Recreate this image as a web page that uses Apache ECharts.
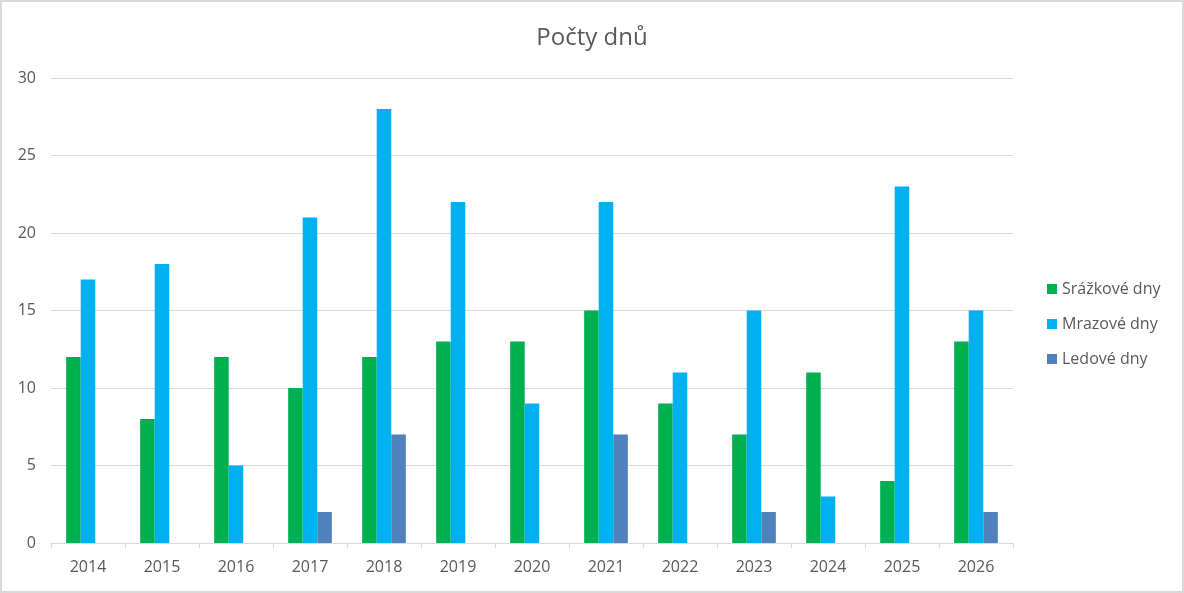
<!DOCTYPE html>
<html><head><meta charset="utf-8">
<script src="https://cdn.jsdelivr.net/npm/echarts@6/dist/echarts.min.js"></script>
<style>
html,body{margin:0;padding:0;background:#fff;}
#c{width:1184px;height:593px;box-sizing:border-box;border:2px solid #d9d9d9;}
</style></head><body>
<div id="c"></div>
<script>
const categories = ['2014','2015','2016','2017','2018','2019','2020','2021','2022','2023','2024','2025','2026'];
const srazkove = [12, 8, 12, 10, 12, 13, 13, 15, 9, 7, 11, 4, 13];
const mrazove = [17, 18, 5, 21, 28, 22, 9, 22, 11, 15, 3, 23, 15];
const ledove = [0, 0, 0, 2, 7, 0, 0, 7, 0, 2, 0, 0, 2];
const yTicks = [0, 5, 10, 15, 20, 25, 30];

const font = '"Open Sans", "Noto Sans", sans-serif';
const chart = echarts.init(document.getElementById('c'), null, {renderer:'canvas'});
chart.setOption({
  animation:false,
  textStyle:{fontFamily:font},
  title:{text:'Počty dnů', left:'center', top:19, textStyle:{fontFamily:font, fontSize:24, fontWeight:'normal', color:'#595959'}},
  legend:{orient:'vertical', left:1040, top:274, itemWidth:10, itemHeight:10, itemGap:19,
    textStyle:{fontFamily:font, fontSize:16, color:'#595959'}, icon:'rect',
    data:['Srážkové dny','Mrazové dny','Ledové dny']},
  grid:{left:49, right:169, top:76, bottom:48, containLabel:false},
  xAxis:{type:'category', data:categories,
    axisLine:{lineStyle:{color:'#d9d9d9', width:1}},
    axisTick:{show:true, length:5, lineStyle:{color:'#d9d9d9'}},
    axisLabel:{fontFamily:font, fontSize:16, color:'#595959', margin:16}},
  yAxis:{type:'value', min:yTicks[0], max:yTicks[yTicks.length-1], interval:5,
    axisLine:{show:false}, axisTick:{show:false},
    splitLine:{lineStyle:{color:'#d9d9d9', width:1}},
    axisLabel:{fontFamily:font, fontSize:16, color:'#595959', margin:15}},
  series:[
    {name:'Srážkové dny', type:'bar', data:srazkove, itemStyle:{color:'#00B050'}, barGap:'0%', barCategoryGap:'41%'},
    {name:'Mrazové dny', type:'bar', data:mrazove, itemStyle:{color:'#00B0F0'}, barGap:'0%', barCategoryGap:'41%'},
    {name:'Ledové dny', type:'bar', data:ledove, itemStyle:{color:'#4F81BD'}, barGap:'0%', barCategoryGap:'41%'}
  ]
});
</script>
</body></html>
